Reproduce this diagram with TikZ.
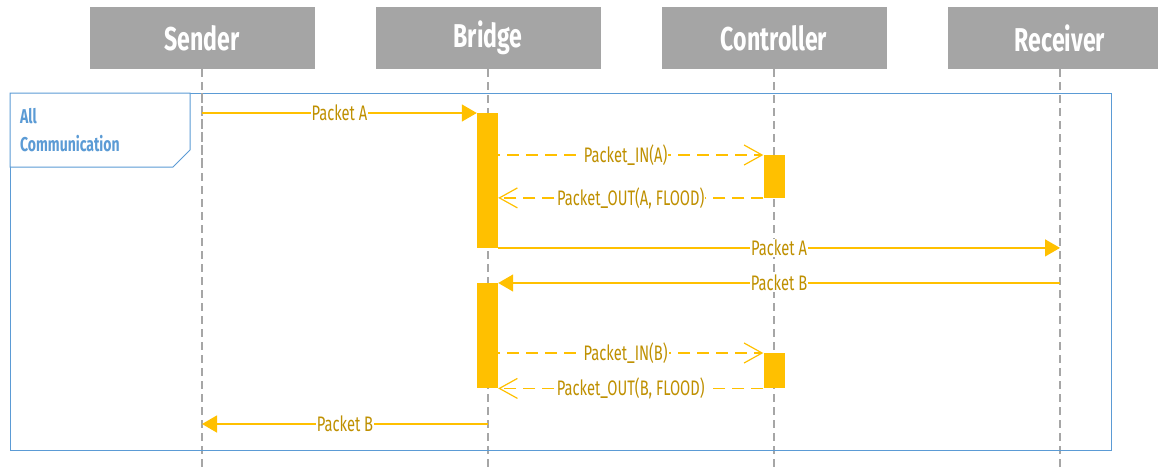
\documentclass[tikz,border=0pt]{standalone}
\usepackage{fontspec}
\setmainfont{Fira Sans}[FakeStretch=0.7]
\usetikzlibrary{arrows.meta,positioning}
\definecolor{headgray}{HTML}{A5A5A5}
\definecolor{lifegray}{HTML}{A6A6A6}
\definecolor{actgold}{HTML}{FFC000}
\definecolor{textgold}{HTML}{BF9000}
\definecolor{frameblue}{HTML}{5B9BD5}

\begin{document}
\begin{tikzpicture}[x=1pt,y=-1pt,
    head/.style={fill=headgray,minimum width=225pt,minimum height=62pt,inner sep=0pt,
      text=white,font=\bfseries\fontsize{33}{36}\selectfont},
    life/.style={draw=lifegray,line width=1.3pt,dash pattern=on 8pt off 5pt},
    act/.style={fill=actgold,minimum width=21pt,inner sep=0pt,anchor=north},
    msg/.style={draw=actgold,line width=1.4pt,-{Triangle[length=15pt,width=17pt]}},
    reply/.style={draw=actgold,line width=1.3pt,dash pattern=on 12pt off 7pt,
      -{Straight Barb[length=18pt,width=20pt,line width=1.2pt]}},
    lbl/.style={fill=white,text=textgold,inner sep=1pt,font=\fontsize{21}{24}\selectfont}]
    \useasboundingbox (0,0) rectangle (1158,467);
    \clip (0,0) rectangle (1158,467);
    %% lifeline heads
    \node[head] (sender) at (202,38) {Sender};
    \node[head] (bridge) at (488,38) {Bridge};
    \node[head] (controller) at (774,38) {Controller};
    \node[head] (receiver) at (1060,38) {Receiver};
    \coordinate (bottom) at (0,467);
    %% lifelines
    \foreach \who in {sender,bridge,controller,receiver}
        \draw[life] (\who.south) -- (\who |- bottom);
    %% the fragment
    \node[draw=frameblue,line width=1pt,minimum width=1101pt,minimum height=357pt,
      inner sep=0pt,anchor=north west,fill=none] (frame) at (10,93) {};
    \draw[frameblue,line width=1pt,fill=white] (frame.north west) -- ++(180,0) -- ++(0,57)
        -- ++(-17,17) -- ++(-163,0) -- cycle;
    \node[anchor=north west,align=left,text=frameblue,inner sep=0pt,
      font=\bfseries\fontsize{20}{28}\selectfont] (fraglabel) at (20,108) {All\\Communication};
    \draw[life] (sender |- frame.north) -- ++(0,74);
    %% activations
    \node[act,minimum height=134.5pt] (bridgeA) at (487.5,113) {};
    \node[act,minimum height=42.5pt] (ctrlA) at (774,155) {};
    \node[act,minimum height=105pt] (bridgeB) at (487.5,283) {};
    \node[act,minimum height=35pt] (ctrlB) at (774,353) {};
    \coordinate (lastmsg) at (0,424);
    %% messages
    \draw[msg] (sender |- bridgeA.north) -- (bridgeA.north west)
        node[lbl,midway] {Packet A};
    \draw[reply] (bridge |- ctrlA.north) -- (ctrlA.north west)
        node[lbl,midway] {Packet\_IN(A)};
    \draw[reply] (ctrlA.south west) -- (bridgeA.east |- ctrlA.south)
        node[lbl,midway] {Packet\_OUT(A, FLOOD)};
    \draw[msg] (bridgeA.south east) -- (receiver |- bridgeA.south)
        node[lbl,midway] {Packet A};
    \draw[msg] (receiver |- bridgeB.north) -- (bridgeB.north east)
        node[lbl,midway] {Packet B};
    \draw[reply] (bridge |- ctrlB.north) -- (ctrlB.north west)
        node[lbl,midway] {Packet\_IN(B)};
    \draw[reply] (ctrlB.south west) -- (bridgeB.east |- ctrlB.south)
        node[lbl,midway] {Packet\_OUT(B, FLOOD)};
    \draw[msg] (bridge |- lastmsg) -- (sender |- lastmsg)
        node[lbl,midway] {Packet B};
\end{tikzpicture}
\end{document}
